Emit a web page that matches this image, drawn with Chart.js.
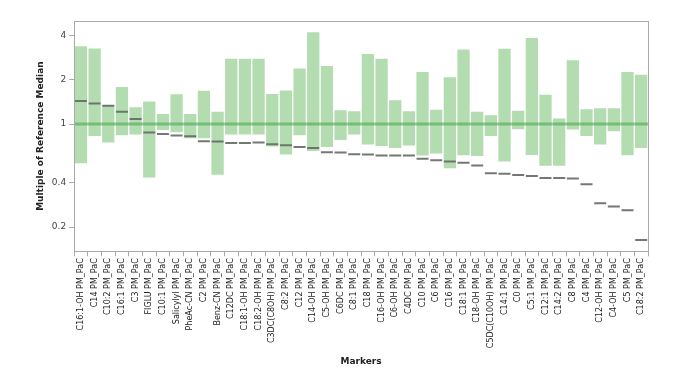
<!DOCTYPE html>
<html>
<head>
<meta charset="utf-8">
<script src="https://cdn.jsdelivr.net/npm/chart.js@4"></script>
<style>
  html, body { margin: 0; padding: 0; background: #fff; }
  #wrap { width: 685px; height: 385px; }
</style>
</head>
<body>
<div id="wrap"><canvas id="chart"></canvas></div>
<script>
const markers = ['C16:1-OH', 'C14', 'C10:2', 'C16:1', 'C3', 'FIGLU', 'C10:1', 'Salicylyl', 'PheAc-CN', 'C2',
  'Benz-CN', 'C12DC', 'C18:1-OH', 'C18:2-OH', 'C3DC(C8OH)', 'C8:2', 'C12', 'C14-OH', 'C5-OH', 'C6DC',
  'C8:1', 'C18', 'C16-OH', 'C6-OH', 'C4DC', 'C10', 'C6', 'C16', 'C18:1', 'C18-OH',
  'C5DC(C10OH)', 'C14:1', 'C0', 'C5:1', 'C12:1', 'C14:2', 'C8', 'C4', 'C12-OH', 'C4-OH',
  'C5', 'C18:2'].map(m => m + ' PM_PaC');

// reference range per marker (low / high)
const rangeLow = [0.542, 0.83, 0.748, 0.84, 0.85, 0.434, 0.91, 0.878, 0.80, 0.80,
  0.452, 0.85, 0.85, 0.85, 0.703, 0.621, 0.84, 0.657, 0.699, 0.78,
  0.848, 0.726, 0.71, 0.688, 0.714, 0.611, 0.63, 0.50, 0.614, 0.607,
  0.83, 0.557, 0.92, 0.617, 0.52, 0.52, 0.917, 0.83, 0.726, 0.893,
  0.614, 0.688];
const rangeHigh = [3.37, 3.25, 1.34, 1.78, 1.30, 1.42, 1.17, 1.59, 1.17, 1.68,
  1.21, 2.77, 2.77, 2.77, 1.60, 1.69, 2.38, 4.19, 2.48, 1.24,
  1.22, 2.98, 2.77, 1.45, 1.22, 2.25, 1.25, 2.08, 3.20, 1.21,
  1.145, 3.24, 1.23, 3.84, 1.58, 1.09, 2.71, 1.26, 1.28, 1.28,
  2.25, 2.16];
// patient value (multiple of median)
const values = [1.43, 1.38, 1.33, 1.21, 1.08, 0.875, 0.856, 0.835, 0.826, 0.764,
  0.76, 0.744, 0.744, 0.75, 0.729, 0.718, 0.699, 0.688, 0.643, 0.64,
  0.624, 0.621, 0.611, 0.611, 0.611, 0.58, 0.568, 0.557, 0.545, 0.523,
  0.464, 0.459, 0.45, 0.443, 0.431, 0.431, 0.427, 0.39, 0.29, 0.276,
  0.26, 0.163];
const yTicks = [0.2, 0.4, 1, 2, 4];
const refLine = 1;

const axisGrey = '#aaaaaa';
const font = 'DejaVu Sans';

const framePlugin = {
  id: 'frame',
  afterDatasetDraw(chart, args) {
    if (args.meta.type !== 'bar') return;
    // rule at median = 1
    const {ctx, chartArea} = chart;
    const y = chart.scales.y.getPixelForValue(refLine);
    ctx.save();
    ctx.strokeStyle = 'rgba(60,165,70,0.55)';
    ctx.lineWidth = 3;
    ctx.beginPath();
    ctx.moveTo(chartArea.left, y);
    ctx.lineTo(chartArea.right, y);
    ctx.stroke();
    ctx.restore();
  },
  afterDraw(chart) {
    const {ctx, chartArea} = chart;
    ctx.save();
    ctx.strokeStyle = axisGrey;
    ctx.lineWidth = 1;
    ctx.strokeRect(Math.round(chartArea.left) + 0.5, Math.round(chartArea.top) + 0.5,
      Math.round(chartArea.right - chartArea.left), Math.round(chartArea.bottom - chartArea.top));
    ctx.restore();
  }
};

new Chart(document.getElementById('chart'), {
  type: 'bar',
  data: {
    labels: markers,
    datasets: [{
      type: 'line',
      data: values,
      order: 0,
      showLine: false,
      pointStyle: 'line',
      pointRadius: 6,
      pointHoverRadius: 6,
      pointBorderWidth: 2,
      borderColor: 'rgba(100,105,100,0.9)',
      pointBorderColor: 'rgba(100,105,100,0.9)'
    }, {
      data: rangeLow.map((lo, i) => [lo, rangeHigh[i]]),
      order: 1,
      backgroundColor: '#b3dcb1',
      borderWidth: 0,
      barPercentage: 0.9,
      categoryPercentage: 1
    }]
  },
  options: {
    responsive: true,
    maintainAspectRatio: false,
    animation: false,
    events: [],
    layout: {padding: {left: 31, right: 37, top: 21, bottom: 14}},
    plugins: {legend: {display: false}, tooltip: {enabled: false}},
    scales: {
      x: {
        offset: true,
        grid: {drawOnChartArea: false, drawTicks: true, tickLength: 5, color: axisGrey, offset: true},
        border: {color: axisGrey},
        ticks: {minRotation: 90, maxRotation: 90, autoSkip: false, padding: 2,
          font: {family: font, size: 8}, color: '#222'},
        title: {display: true, text: 'Markers', color: '#222',
          font: {family: font, size: 9, weight: 'bold'}, padding: {top: 6}}
      },
      y: {
        type: 'logarithmic',
        min: 0.137,
        max: 5,
        afterBuildTicks(scale) {
          scale.ticks = yTicks.map(v => ({value: v}));
        },
        grid: {drawOnChartArea: false, drawTicks: true, tickLength: 5, color: axisGrey},
        border: {color: axisGrey},
        ticks: {font: {family: font, size: 9}, color: '#444', padding: 3,
          callback: v => String(v)},
        title: {display: true, text: 'Multiple of Reference Median', color: '#222',
          font: {family: font, size: 9, weight: 'bold'}, padding: {bottom: 3}}
      }
    }
  },
  plugins: [framePlugin]
});
</script>
</body>
</html>
